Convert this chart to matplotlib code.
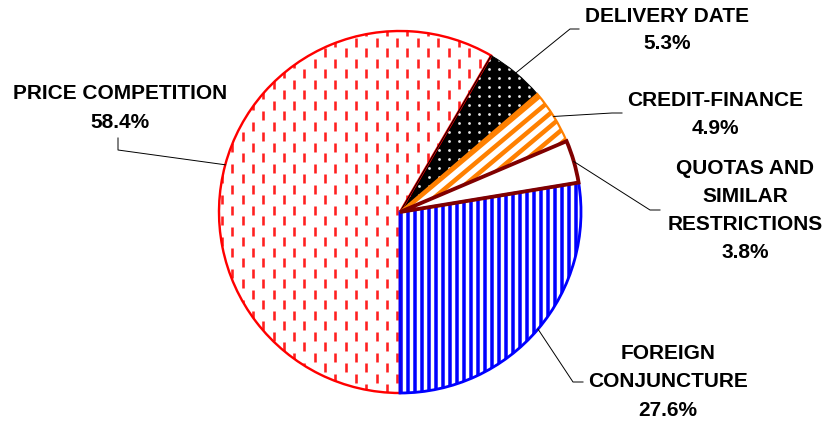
import numpy as np
import matplotlib
matplotlib.use('Agg')
import matplotlib.pyplot as plt
from matplotlib.collections import LineCollection
from matplotlib.patches import Wedge

# data (counter-clockwise from the bottom)
names = ['FOREIGN\nCONJUNCTURE', 'QUOTAS AND\nSIMILAR\nRESTRICTIONS', 'CREDIT-FINANCE',
         'DELIVERY DATE', 'PRICE COMPETITION']
shares = [27.6, 3.8, 4.9, 5.3, 58.4]

W, H = 824, 423
cx, cy, R = 400, H - 212, 181

edge_colors = ['#0000ff', '#800000', '#ff8000', '#000000', '#ff0000']
edge_widths = [2.8, 3.8, 2.2, 1.0, 2.4]
face_colors = ['white', 'white', 'white', 'black', 'white']
edge_z = [5, 8, 7, 6, 3]

# label positions (image pixels): line centres x, first line y, line step
label_pos = [(668, 353, 28.5), (745, 168, 28), (715, 100, 28), (667, 16, 27), (120, 93, 29)]
# leader line elbow and end points (image pixels)
leaders = [[(573, 382), (583, 382)], [(650, 210), (660, 210)], [(612, 113), (622, 113)],
           [(570, 29), (579, 29)], [(118, 150), (118, 138)]]

plt.rcParams['font.family'] = ['Liberation Sans', 'DejaVu Sans']

fig = plt.figure(figsize=(W / 100, H / 100), dpi=100)
ax = fig.add_axes([0, 0, 1, 1])

wedges, _ = ax.pie(shares, startangle=-90, counterclock=True, radius=R, center=(cx, cy),
                   colors=face_colors, frame=True, wedgeprops=dict(linewidth=0, zorder=1))
ax.set_xlim(0, W)
ax.set_ylim(0, H)
ax.axis('off')


def px(v):
    return v * 72 / 100


def clip_lines(segs, wedge, color, lw):
    lc = LineCollection(segs, colors=color, linewidths=px(lw), zorder=2, capstyle='butt')
    ax.add_collection(lc)
    lc.set_clip_path(wedge)


# foreign conjuncture: blue vertical stripes
xs = np.arange(cx - R, cx + R, 7.0)
clip_lines([[(x, cy - R), (x, cy + R)] for x in xs], wedges[0], '#0000ff', 3.5)

# credit-finance: orange diagonal stripes (about 40 deg)
ang = np.deg2rad(40)
d = np.array([np.cos(ang), np.sin(ang)])
n = np.array([-np.sin(ang), np.cos(ang)])
segs = []
for o in np.arange(-R, R, 10.0):
    p = np.array([cx, cy]) + o * n
    segs.append([tuple(p - R * d), tuple(p + R * d)])
clip_lines(segs, wedges[2], '#ff8000', 4.5)

# delivery date: white dots on black
dots = []
for y in np.arange(cy - R, cy + R, 9.0):
    for x in np.arange(cx - R, cx + R, 10.0):
        dots.append((x, y))
dots = np.array(dots)
sc = ax.scatter(dots[:, 0], dots[:, 1], s=4, c='#e8e8e8', linewidths=0, zorder=2)
sc.set_clip_path(wedges[3])

# price competition: red dashes
segs = []
for i, x in enumerate(np.arange(cx - R + 3, cx + R, 10.3)):
    start = cy - R + (10.5 if i % 2 else 0)
    for y in np.arange(start, cy + R, 21.0):
        segs.append([(x, y), (x, y + 9)])
clip_lines(segs, wedges[4], '#ff2020', 2.6)

# wedge outlines
for i, w in enumerate(wedges):
    ax.add_patch(Wedge(w.center, w.r, w.theta1, w.theta2, facecolor='none',
                       edgecolor=edge_colors[i], linewidth=px(edge_widths[i]),
                       zorder=edge_z[i], joinstyle='miter'))

# labels and leader lines
for i, w in enumerate(wedges):
    mid = np.deg2rad((w.theta1 + w.theta2) / 2)
    x0, y0 = cx + R * np.cos(mid), cy + R * np.sin(mid)
    pts = [(x0, y0)] + [(x, H - y) for x, y in leaders[i]]
    ax.plot([p[0] for p in pts], [p[1] for p in pts], color='black', lw=0.7, zorder=9)

    lx, ly, step = label_pos[i]
    lines = names[i].split('\n') + [f'{shares[i]:.1f}%']
    for k, t in enumerate(lines):
        ax.text(lx, H - (ly + k * step), t, ha='center', va='center', fontsize=15,
                fontweight='bold', color='black', zorder=10)

fig.savefig('out.png', dpi=100)
